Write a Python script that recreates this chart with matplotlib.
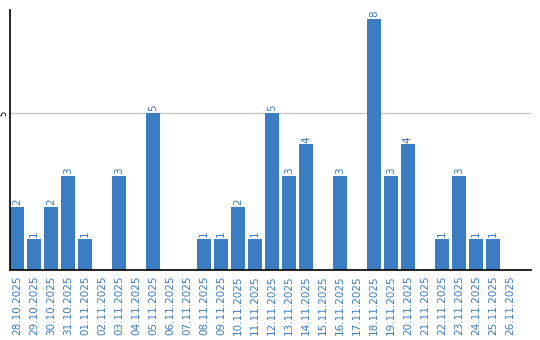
import matplotlib
matplotlib.use("Agg")
import matplotlib.pyplot as plt
import numpy as np

# daily counts
dates = ["28.10.2025", "29.10.2025", "30.10.2025", "31.10.2025", "01.11.2025",
         "02.11.2025", "03.11.2025", "04.11.2025", "05.11.2025", "06.11.2025",
         "07.11.2025", "08.11.2025", "09.11.2025", "10.11.2025", "11.11.2025",
         "12.11.2025", "13.11.2025", "14.11.2025", "15.11.2025", "16.11.2025",
         "17.11.2025", "18.11.2025", "19.11.2025", "20.11.2025", "21.11.2025",
         "22.11.2025", "23.11.2025", "24.11.2025", "25.11.2025", "26.11.2025"]
counts = [2, 1, 2, 3, 1, 0, 3, 0, 5, 0,
          0, 1, 1, 2, 1, 5, 3, 4, 0, 3,
          0, 8, 3, 4, 0, 1, 3, 1, 1, 0]
yticks = [5]

bar_color = "#3b7dc3"
label_color = "#3b7dc3"

fig = plt.figure(figsize=(5.4, 3.4), dpi=100)
ax = fig.add_axes([10 / 540, 70 / 340, 521 / 540, 260 / 340])

x = np.arange(len(dates))
ax.bar(x, counts, width=14 / 17, color=bar_color, zorder=2)

for i, c in enumerate(counts):
    if c > 0:
        ax.text(i, c + 0.06, str(c), rotation=90, ha="center", va="bottom",
                fontsize=7.5, color=label_color)

ax.set_xlim(-0.41, 30.24)
ax.set_ylim(0, 8.28)
ax.set_yticks(yticks)
ax.set_yticklabels([str(v) for v in yticks], rotation=90, fontsize=6,
                   va="center")
ax.tick_params(axis="y", length=0, pad=1)
ax.grid(axis="y", color="#c8c8c8", linewidth=1, zorder=0)

ax.set_xticks(x)
ax.set_xticklabels(dates, rotation=90, fontsize=7.5, color=label_color)
ax.tick_params(axis="x", length=0, pad=4)

for s in ["top", "right"]:
    ax.spines[s].set_visible(False)
ax.spines["left"].set_linewidth(1.2)
ax.spines["bottom"].set_linewidth(1.2)

fig.savefig("out.png", dpi=100)
